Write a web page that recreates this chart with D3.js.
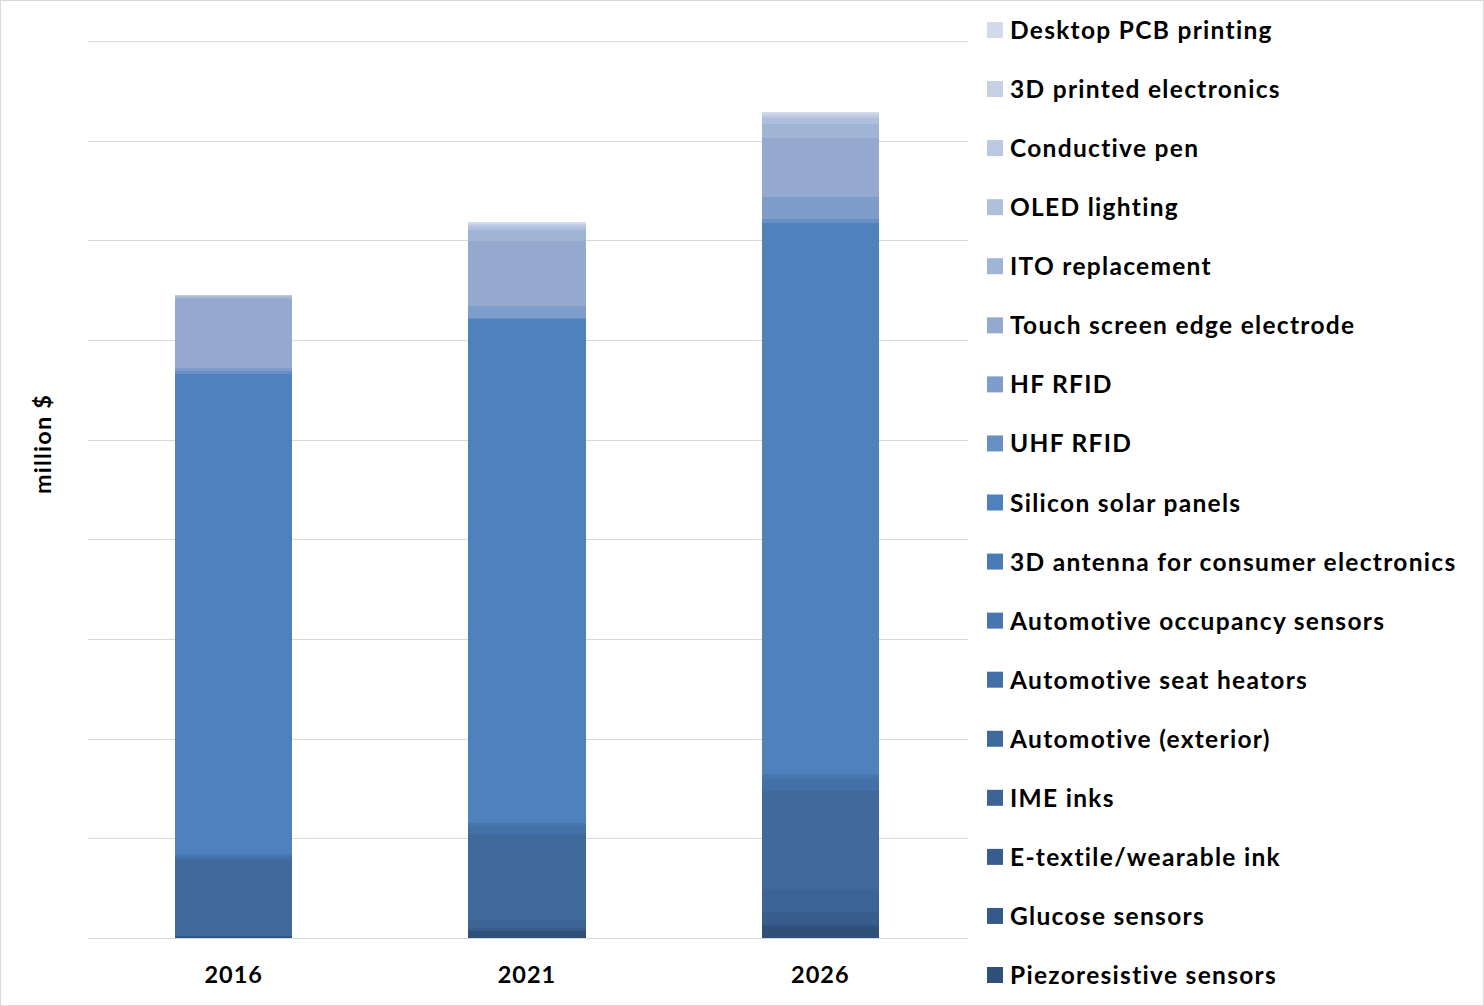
<!DOCTYPE html>
<html><head><meta charset="utf-8">
<script src="https://cdn.jsdelivr.net/npm/d3@7"></script>
<style>
html,body{margin:0;padding:0;background:#fff;}
svg{display:block;}
text{font-family:Lato,"Open Sans",sans-serif;font-weight:bold;fill:#000;}
</style></head><body>
<script>
const years = ["2016","2021","2026"];
// series listed bottom (stack start) to top
const seriesNames = [
  "Piezoresistive sensors","Glucose sensors","E-textile/wearable ink","IME inks",
  "Automotive (exterior)","Automotive seat heators","Automotive occupancy sensors",
  "3D antenna for consumer electronics","Silicon solar panels","UHF RFID","HF RFID",
  "Touch screen edge electrode","ITO replacement","OLED lighting","Conductive pen",
  "3D printed electronics","Desktop PCB printing"
];
const values2016 = [1.5,0.3,0.2,0,76,3,2.5,0.5,482,3,3,69,2.5,1,0.3,0.1,0.1];
const values2021 = [7.5,1,1.5,8,86,8,3,0.5,506,1,12,65,11,3,2,1,1.5];
const values2026 = [12,2,12,23,98,13,4,1,552.5,4,22,59,14,6,2,2,2];
const seriesColors = [
  "#2f5077","#35598a","#385d8c","#3c6596","#406a9c","#4370a6","#4675b0","#4a7bb7",
  "#4f81bd","#6a8fc4","#7e9dca","#95a9cf","#a0b4d6","#b0c0dc","#bcc8e1","#c6d0e5","#d3dbea"
];
const gridTicks = [0,100,200,300,400,500,600,700,800,900];

const W=1484,H=1006;
const svg=d3.select("body").append("svg").attr("width",W).attr("height",H);
svg.append("rect").attr("x",0.5).attr("y",0.5).attr("width",W-1).attr("height",H-1)
  .attr("fill","#fff").attr("stroke","#d9d9d9");

const x=d3.scaleBand().domain(years).range([87,967]).paddingInner(0.6).paddingOuter(0.3);
const y=d3.scaleLinear().domain([0,900]).range([938,41]);

svg.append("g").selectAll("line").data(gridTicks).join("line")
  .attr("x1",88).attr("x2",968).attr("y1",d=>Math.round(y(d))+0.5).attr("y2",d=>Math.round(y(d))+0.5)
  .attr("stroke","#d9d9d9").attr("stroke-width",1);

const valsByYear=[values2016,values2021,values2026];
const rows=years.map((yr,i)=>{const o={year:yr};seriesNames.forEach((s,j)=>o[s]=valsByYear[i][j]);return o;});
const stacked=d3.stack().keys(seriesNames)(rows);
const color=d3.scaleOrdinal().domain(seriesNames).range(seriesColors);

svg.append("g").attr("shape-rendering","crispEdges").selectAll("g").data(stacked).join("g").attr("fill",d=>color(d.key))
  .selectAll("rect").data(d=>d).join("rect")
  .attr("x",d=>x(d.data.year)).attr("width",x.bandwidth())
  .attr("y",d=>y(d[1])).attr("height",d=>Math.max(0,y(d[0])-y(d[1])));

svg.append("g").selectAll("text").data(years).join("text")
  .attr("x",d=>x(d)+x.bandwidth()/2).attr("y",983).attr("text-anchor","middle")
  .attr("font-size",23.5).attr("letter-spacing",1).text(d=>d);

svg.append("text").attr("transform","translate(51,444) rotate(-90)").attr("text-anchor","middle")
  .attr("font-size",23.5).attr("letter-spacing",1.2).text("million $");

const legendOrder=seriesNames.slice().reverse();
const ly=d3.scalePoint().domain(legendOrder).range([30,975]);
const lg=svg.append("g").selectAll("g").data(legendOrder).join("g")
  .attr("transform",d=>`translate(987,${ly(d)})`);
lg.append("rect").attr("x",0).attr("y",-8).attr("width",16).attr("height",16).attr("fill",d=>color(d));
lg.append("text").attr("x",23).attr("y",9).attr("font-size",24.5).attr("letter-spacing",1.3).text(d=>d);
</script>
</body></html>
